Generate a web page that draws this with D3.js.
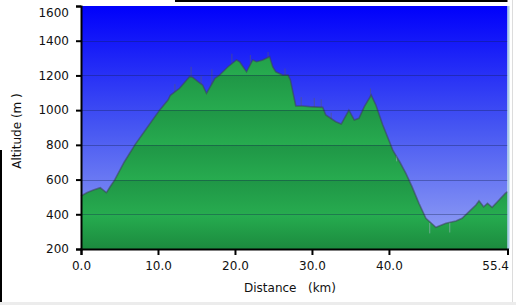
<!DOCTYPE html>
<html lang="en">
    <head>
        <meta charset="utf-8">
        <title>Altitude profile</title>
        <script type="text/javascript" src="https://cdn.jsdelivr.net/npm/d3@7"></script>
        <style>
            body { margin: 0; background: #fff; }
            svg { display: block; }
        </style>
    </head>
    <body>
        <script type="text/javascript">

            //Width and height
            var w = 516;
            var h = 305;

            //Plot area
            var plotLeft = 81, plotRight = 507.5, plotTop = 6, plotBottom = 249;

            //Profile: distance (km) and altitude (m)
            var distance = [0.0, 0.8, 1.6, 2.5, 3.3, 3.8, 4.4, 5.6, 7.0, 8.6, 10.2, 11.3, 11.6, 12.8,
                            14.1, 14.5, 15.2, 15.8, 16.3, 17.4, 18.0, 19.1, 20.2, 20.6, 21.5, 22.3,
                            22.8, 23.6, 24.5, 24.9, 25.3, 26.2, 26.9, 27.2, 27.9, 28.8, 29.7, 31.4,
                            31.8, 33.1, 33.8, 34.3, 34.8, 35.5, 36.1, 36.8, 37.7, 38.3, 39.2, 40.5,
                            41.5, 42.2, 43.0, 43.9, 44.8, 46.1, 47.4, 48.7, 49.5, 50.4, 51.3, 51.7,
                            52.3, 52.8, 53.4, 54.3, 55.1, 55.4];
            var altitude = [505, 525, 540, 553, 525, 560, 600, 700, 800, 900, 1000, 1058, 1085, 1126,
                            1193, 1189, 1164, 1145, 1097, 1183, 1202, 1250, 1289, 1279, 1221, 1289,
                            1279, 1289, 1308, 1250, 1221, 1202, 1202, 1174, 1024, 1024, 1020, 1016,
                            972, 933, 920, 960, 1000, 943, 953, 1020, 1087, 1030, 914, 770,
                            694, 636, 559, 463, 377, 325, 348, 361, 377, 415, 453, 478,
                            443, 463, 440, 482, 520, 530];

            //Thin GPS spikes: distance, base and tip altitude
            var spikeKm   = [12.2, 14.3, 15.6, 17.0, 19.6, 22.0, 24.3, 26.5, 28.6, 30.3, 31.2, 32.5, 37.6, 41.0, 45.3, 47.9];
            var spikeFrom = [1105, 1190, 1150, 1150, 1270, 1260, 1300, 1202, 1024, 1018, 1016, 950, 1080, 735, 350, 352];
            var spikeTo   = [1150, 1250, 1195, 1235, 1325, 1318, 1335, 1240, 1075, 1070, 1062, 985, 1125, 705, 290, 295];

            //Tick labels
            var yTicks = [200, 400, 600, 800, 1000, 1200, 1400, 1600];
            var xTicks = [0, 10, 20, 30, 40, 55.4];

            var dataset = distance.map(function(d, i) {
                return { km: d, alt: altitude[i] };
            });

            //Create scale functions
            var xScale = d3.scaleLinear()
                            .domain([0, 55.4])
                            .range([plotLeft, plotRight]);

            var yScale = d3.scaleLinear()
                            .domain([200, 1600])
                            .range([plotBottom, plotTop]);

            //Create SVG element
            var svg = d3.select("body")
                        .append("svg")
                        .attr("width", w)
                        .attr("height", h);

            var defs = svg.append("defs");

            //Sky gradient
            var sky = defs.append("linearGradient")
                        .attr("id", "sky")
                        .attr("gradientUnits", "userSpaceOnUse")
                        .attr("x1", 0).attr("x2", 0)
                        .attr("y1", plotTop).attr("y2", plotBottom);
            sky.append("stop").attr("offset", "0%").attr("stop-color", "#0000fb");
            sky.append("stop").attr("offset", "50%").attr("stop-color", "#4656f2");
            sky.append("stop").attr("offset", "100%").attr("stop-color", "#98a6f4");

            //Green gradient, one shade per band between gridlines
            var grass = defs.append("linearGradient")
                        .attr("id", "grass")
                        .attr("gradientUnits", "userSpaceOnUse")
                        .attr("x1", 0).attr("x2", 0)
                        .attr("y1", plotTop).attr("y2", plotBottom);
            var span = plotBottom - plotTop;
            var bands = yTicks.slice().reverse();
            bands.forEach(function(t, i) {
                if (i == bands.length - 1) return;
                var o0 = (yScale(t) - plotTop) / span * 100;
                var o1 = (yScale(bands[i + 1]) - plotTop) / span * 100;
                var last = (i == bands.length - 2);
                grass.append("stop").attr("offset", o0 + "%").attr("stop-color", last ? "#26ad50" : "#1f9646");
                grass.append("stop").attr("offset", o1 + "%").attr("stop-color", last ? "#1c8a3e" : "#27ab4f");
            });

            //Background of plot
            svg.append("rect")
                .attr("x", plotLeft)
                .attr("y", plotTop)
                .attr("width", plotRight - plotLeft)
                .attr("height", plotBottom - plotTop)
                .attr("fill", "url(#sky)");

            //Area
            var area = d3.area()
                        .x(function(d) { return xScale(d.km); })
                        .y0(plotBottom)
                        .y1(function(d) { return yScale(d.alt); });

            svg.append("path")
                .datum(dataset)
                .attr("d", area)
                .attr("fill", "url(#grass)");

            //Spikes
            svg.selectAll("line.spike")
                .data(spikeKm)
                .enter()
                .append("line")
                .attr("class", "spike")
                .attr("x1", function(d) { return xScale(d); })
                .attr("x2", function(d) { return xScale(d); })
                .attr("y1", function(d, i) { return yScale(spikeFrom[i]); })
                .attr("y2", function(d, i) { return yScale(spikeTo[i]); })
                .attr("stroke", function(d, i) { return spikeTo[i] < spikeFrom[i] ? "#a0b0c0" : "#555a70"; })
                .attr("stroke-opacity", 0.6)
                .attr("stroke-width", 1);

            //Profile outline
            var line = d3.line()
                        .x(function(d) { return xScale(d.km); })
                        .y(function(d) { return yScale(d.alt); });

            svg.append("path")
                .datum(dataset)
                .attr("d", line)
                .attr("fill", "none")
                .attr("stroke", "#3c3f5a")
                .attr("stroke-opacity", 0.55)
                .attr("stroke-width", 1.6);

            //Gridlines
            svg.selectAll("line.grid")
                .data(yTicks.slice(1, -1))
                .enter()
                .append("line")
                .attr("class", "grid")
                .attr("x1", plotLeft)
                .attr("x2", plotRight)
                .attr("y1", function(d) { return Math.round(yScale(d)) + 0.5; })
                .attr("y2", function(d) { return Math.round(yScale(d)) + 0.5; })
                .attr("stroke", "#10204a")
                .attr("stroke-opacity", 0.35)
                .attr("stroke-width", 1);

            //Light edge on the right of the plot
            svg.append("rect")
                .attr("x", plotRight)
                .attr("y", plotTop)
                .attr("width", 2)
                .attr("height", plotBottom - plotTop)
                .attr("fill", "#a8cce6");

            //Y axis
            var yAxis = d3.axisLeft(yScale)
                            .tickValues(yTicks)
                            .tickSize(5)
                            .tickPadding(7)
                            .tickFormat(d3.format("d"));

            var gy = svg.append("g")
                .attr("transform", "translate(" + plotLeft + ",0)")
                .call(yAxis);

            //X axis
            var xAxis = d3.axisBottom(xScale)
                            .tickValues(xTicks)
                            .tickSize(6)
                            .tickPadding(6)
                            .tickFormat(d3.format(".1f"));

            var gx = svg.append("g")
                .attr("transform", "translate(0," + plotBottom + ")")
                .call(xAxis);

            [gx, gy].forEach(function(g) {
                g.select(".domain").attr("stroke", "#000").attr("stroke-width", 2);
                g.selectAll(".tick line").attr("stroke", "#000").attr("stroke-width", 2);
                g.selectAll("text")
                    .attr("font-family", "DejaVu Sans, sans-serif")
                    .attr("font-size", "12px")
                    .attr("fill", "#111");
            });

            //Keep the end labels inside the picture
            gy.selectAll(".tick text")
                .filter(function(d) { return d == 1600; })
                .attr("dy", "0.85em");
            gx.selectAll(".tick text")
                .filter(function(d) { return d == 55.4; })
                .attr("text-anchor", "end")
                .attr("x", 1);

            //Axis titles
            svg.append("text")
                .attr("x", 290)
                .attr("y", 292)
                .attr("text-anchor", "middle")
                .attr("font-family", "DejaVu Sans, sans-serif")
                .attr("font-size", "12px")
                .attr("fill", "#111")
                .style("white-space", "pre")
                .text("Distance   (km)");

            svg.append("text")
                .attr("transform", "translate(21,131) rotate(-90)")
                .attr("text-anchor", "middle")
                .attr("font-family", "DejaVu Sans, sans-serif")
                .attr("font-size", "12px")
                .attr("fill", "#111")
                .text("Altitude (m )");

            //Frame
            svg.append("rect")
                .attr("x", 0).attr("y", 302)
                .attr("width", w).attr("height", 3)
                .attr("fill", "#ececec");
            svg.append("rect")
                .attr("x", 175).attr("y", 0)
                .attr("width", plotRight - 175).attr("height", 2)
                .attr("fill", "#000");
            svg.append("rect")
                .attr("x", 0).attr("y", 150)
                .attr("width", 2).attr("height", 152)
                .attr("fill", "#000");
            svg.append("rect")
                .attr("x", 512).attr("y", 0)
                .attr("width", 1).attr("height", 302)
                .attr("fill", "#dcdcdc");

        </script>
    </body>
</html>
